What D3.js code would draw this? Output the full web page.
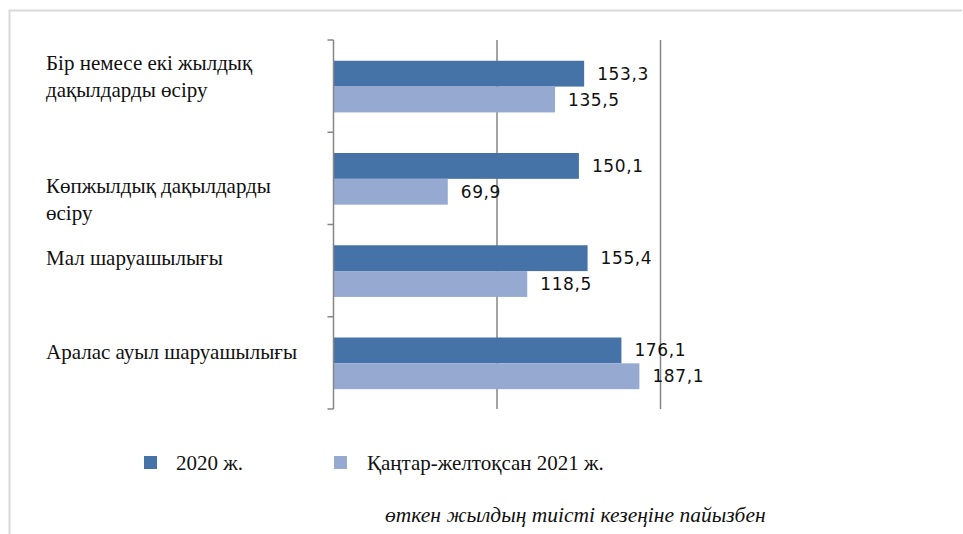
<!DOCTYPE html>
<html>
<head>
<meta charset="utf-8">
<script src="https://cdn.jsdelivr.net/npm/d3@7"></script>
<style>
  body { margin: 0; background: #fff; }
</style>
</head>
<body>
<svg id="chart"></svg>
<script>
// categories (label lines) and values
var categories = [
  ["Бір немесе екі жылдық", "дақылдарды өсіру"],
  ["Көпжылдық дақылдарды", "өсіру"],
  ["Мал шаруашылығы"],
  ["Аралас ауыл шаруашылығы"]
];
var seriesNames = ["2020 ж.", "Қаңтар-желтоқсан 2021 ж."];
var values2020 = [153.3, 150.1, 155.4, 176.1];
var values2021 = [135.5, 69.9, 118.5, 187.1];
var xTicks = [0, 100, 200];
var colors = ["#4572A7", "#95A9D1"];

var serif = "'Liberation Serif', 'DejaVu Serif', 'Times New Roman', serif";
var sans = "'DejaVu Sans', Verdana, sans-serif";

var width = 963, height = 534;
var svg = d3.select("#chart").attr("width", width).attr("height", height);

// outer frame (only top and left visible)
svg.append("path")
  .attr("d", "M9.5,534 V10.5 H962")
  .attr("fill", "none")
  .attr("stroke", "#d9d9d9")
  .attr("stroke-width", 2);

var x = d3.scaleLinear().domain([0, 200]).range([333.5, 660.5]);
var y = d3.scaleBand().domain(d3.range(categories.length)).range([40, 409]);
var ySub = d3.scaleBand().domain([0, 1]).range([y.bandwidth() * 0.225, y.bandwidth() * 0.785]);

// gridlines
svg.append("g").selectAll("line")
  .data(xTicks.slice(1))
  .join("line")
  .attr("x1", d => x(d)).attr("x2", d => x(d))
  .attr("y1", 40).attr("y2", 409)
  .attr("stroke", "#868686").attr("stroke-width", 1.5);

// bars
var rows = categories.map((c, i) => ({ i: i, vals: [values2020[i], values2021[i]] }));
var grp = svg.append("g").selectAll("g")
  .data(rows).join("g")
  .attr("transform", d => "translate(0," + y(d.i) + ")");

grp.selectAll("rect")
  .data(d => d.vals.map((v, k) => ({ v: v, k: k })))
  .join("rect")
  .attr("x", x(0))
  .attr("y", d => ySub(d.k))
  .attr("width", d => x(d.v) - x(0))
  .attr("height", ySub.bandwidth())
  .attr("fill", d => colors[d.k]);

grp.selectAll("text.val")
  .data(d => d.vals.map((v, k) => ({ v: v, k: k })))
  .join("text")
  .attr("class", "val")
  .attr("font-family", sans)
  .attr("font-size", 17)
  .attr("letter-spacing", 0.6)
  .attr("fill", "#111")
  .attr("x", d => x(d.v) + 13)
  .attr("y", d => ySub(d.k) + ySub.bandwidth() / 2 + 6)
  .text(d => d3.format(".1f")(d.v).replace(".", ","));

// y axis with ticks on band edges
var axis = svg.append("g");
axis.append("line")
  .attr("x1", x(0)).attr("x2", x(0))
  .attr("y1", 40).attr("y2", 409)
  .attr("stroke", "#868686").attr("stroke-width", 1.5);
axis.selectAll("line.tk")
  .data(d3.range(categories.length + 1))
  .join("line")
  .attr("class", "tk")
  .attr("x1", x(0) - 6).attr("x2", x(0))
  .attr("y1", d => 40 + d * y.step()).attr("y2", d => 40 + d * y.step())
  .attr("stroke", "#868686").attr("stroke-width", 1.5);

// category labels
var labelY = [70, 193, 265, 359];
svg.append("g").selectAll("text")
  .data(categories)
  .join("text")
  .attr("font-family", serif)
  .attr("font-size", 21)
  .attr("fill", "#111")
  .attr("x", 46)
  .attr("y", (d, i) => labelY[i])
  .selectAll("tspan")
  .data(d => d)
  .join("tspan")
  .attr("x", 46)
  .attr("dy", (d, j) => j === 0 ? 0 : 27)
  .text(d => d);

// legend
var legX = [144, 334];
var leg = svg.append("g").selectAll("g")
  .data(seriesNames).join("g")
  .attr("transform", (d, i) => "translate(" + legX[i] + ",456)");
leg.append("rect").attr("width", 13).attr("height", 13).attr("fill", (d, i) => colors[i]);
leg.append("text")
  .attr("font-family", serif).attr("font-size", 21).attr("fill", "#111")
  .attr("x", (d, i) => i === 0 ? 32 : 33).attr("y", 14).text(d => d);

// footnote
svg.append("text")
  .attr("font-family", serif).attr("font-size", 21.5).attr("font-style", "italic").attr("fill", "#111")
  .attr("x", 385).attr("y", 522)
  .text("өткен жылдың тиісті кезеңіне пайызбен");
</script>
</body>
</html>
